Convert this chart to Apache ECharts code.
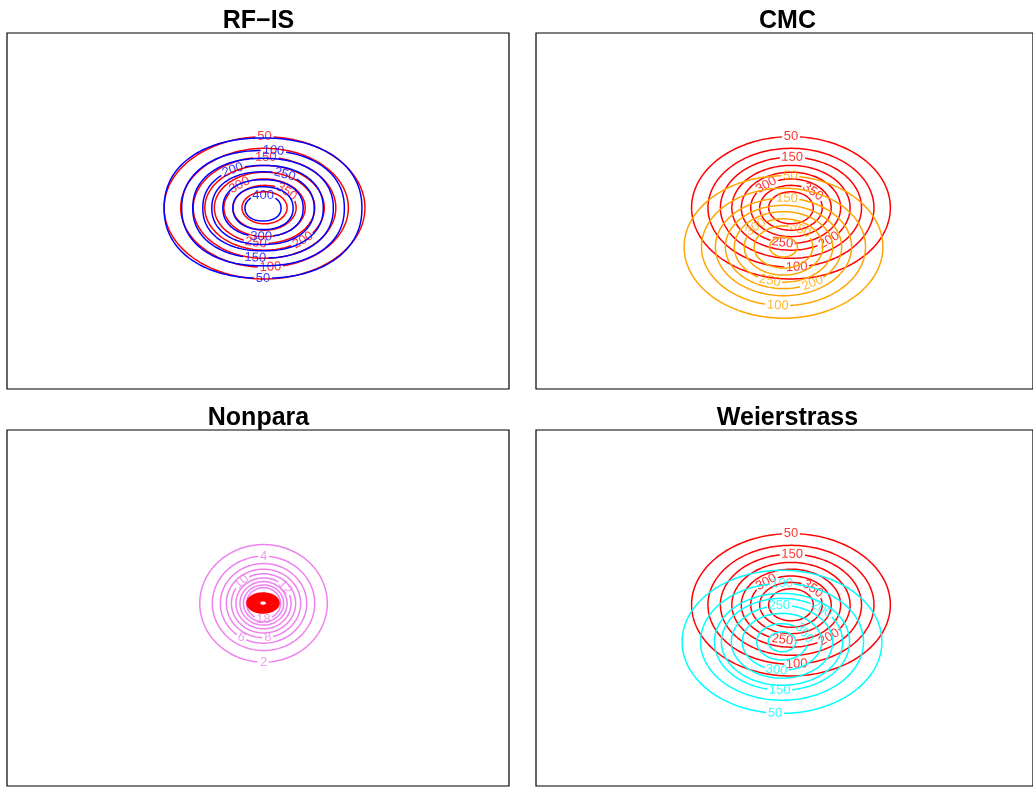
<!DOCTYPE html>
<html>
<head>
<meta charset="utf-8">
<script src="https://cdn.jsdelivr.net/npm/echarts@6/dist/echarts.min.js"></script>
<style>
  html, body { margin: 0; padding: 0; background: #fff; }
  #chart { width: 1033px; height: 787px; }
</style>
</head>
<body>
<div id="chart"></div>
<script>
// ---- panel titles ----
const panelTitles = ['RF\u2212IS', 'CMC', 'Nonpara', 'Weierstrass'];

// ---- true density (red), shared by RF-IS, CMC and Weierstrass ----
const truthLevels = [50, 100, 150, 200, 250, 300, 350, 400];
const truthRadii  = [2.00, 1.67, 1.42, 1.19, 1.00, 0.81, 0.63, 0.45];
const truthCenter = [0.13, 0.09];
// [level, position angle in degrees] of each printed contour label
const truthLabels = [[50, 90], [150, 89], [300, 128], [350, 46], [250, 260], [200, 310], [100, 274]];

// ---- RF-IS estimate (blue) ----
const rfisLevels = [50, 100, 150, 200, 250, 300, 350, 400];
const rfisRadii  = [1.97, 1.62, 1.40, 1.20, 1.02, 0.80, 0.60, 0.36];
const rfisCenter = [0.10, 0.08];
const rfisLabels = [[100, 84], [200, 118], [250, 67], [400, 90], [300, 268], [150, 265], [50, 270]];

// ---- CMC estimate (orange) ----
const cmcLevels = [50, 100, 150, 200, 250, 300, 350, 400];
const cmcRadii  = [2.00, 1.65, 1.37, 1.17, 0.99, 0.79, 0.59, 0.28];
const cmcCenter = [-0.02, -1.01];
const cmcLabels = [[50, 86], [150, 87], [300, 135], [350, 55], [250, 254], [200, 300], [100, 266]];

// ---- Weierstrass estimate (cyan) ----
const weierLevels = [50, 100, 150, 200, 250, 300, 350, 400];
const weierRadii  = [2.01, 1.64, 1.36, 1.22, 1.02, 0.80, 0.51, 0.28];
const weierCenter = [-0.05, -0.95];
const weierLabels = [[100, 90], [250, 93], [200, 49], [350, 29], [300, 262], [150, 268], [50, 266]];

// ---- Nonpara estimate (violet) and its true density (red core) ----
const nonparaLevels = [2, 4, 6, 8, 10, 12, 14, 16, 18];
const nonparaRadii  = [1.27, 1.02, 0.86, 0.74, 0.64, 0.55, 0.47, 0.40, 0.34];
const nonparaCenter = [0.11, 0.13];
const nonparaLabels = [[2, 270], [4, 90], [6, 239], [8, 277], [10, 133], [12, 39], [18, 270]];
const coreRadii  = [0.32, 0.29, 0.26, 0.23, 0.20, 0.17, 0.14, 0.11, 0.08];
const coreCenter = [0.10, 0.14];

// ---- layout ----
const FONT = '"Liberation Sans", Arial, Helvetica, sans-serif';
const PANEL_W = 502, PANEL_H = 356;
const AX_MIN = -5, AX_MAX = 5;
const SX = PANEL_W / (AX_MAX - AX_MIN);   // px per x unit
const SY = PANEL_H / (AX_MAX - AX_MIN);   // px per y unit
const panels = [
  { left: 7,   top: 33 },
  { left: 536, top: 33 },
  { left: 7,   top: 430 },
  { left: 536, top: 430 }
];
const LABEL_SIZE = 13;
const DIGIT_W = 7.2;
const LINE_W = 1.5;

function pointAt(fam, r, deg) {
  const t = deg * Math.PI / 180, c = Math.cos(t), s = Math.sin(t);
  const e = 2 / (fam.shape || 2);
  return [
    fam.center[0] + r * Math.sign(c) * Math.pow(Math.abs(c), e),
    fam.center[1] + r * (fam.aspect || 1) * Math.sign(s) * Math.pow(Math.abs(s), e)
  ];
}

// screen rotation (ECharts: positive = anticlockwise) of the contour at a label
function labelRotation(fam, r, deg) {
  const a = pointAt(fam, r, deg - 0.5), b = pointAt(fam, r, deg + 0.5);
  const dx = (b[0] - a[0]) * SX, dy = -(b[1] - a[1]) * SY;
  let ang = Math.atan2(dy, dx) * 180 / Math.PI;
  while (ang > 90) ang -= 180;
  while (ang <= -90) ang += 180;
  return -ang;
}

// one line series for a contour family, with gaps where labels sit
function contourLines(fam, idx) {
  const N = 720;
  const data = [];
  fam.radii.forEach((r, i) => {
    const lv = fam.levels ? fam.levels[i] : null;
    const labs = (fam.labels || []).filter(l => l[0] === lv).map(l => ({
      p: pointAt(fam, r, l[1]),
      half: String(lv).length * DIGIT_W / 2 + 2
    }));
    let gap = true;
    // run a few steps past a full turn so closed rings have no seam
    for (let k = 0; k <= N + 4; k++) {
      const p = pointAt(fam, r, k * 360 / N);
      const inGap = labs.some(L => Math.hypot((p[0] - L.p[0]) * SX, (p[1] - L.p[1]) * SY) < L.half);
      if (inGap) {
        if (!gap) data.push(['-', '-']);
        gap = true;
      } else {
        data.push(p);
        gap = false;
      }
    }
    data.push(['-', '-']);
  });
  return {
    type: 'line', xAxisIndex: idx, yAxisIndex: idx,
    data, showSymbol: false, symbol: 'none', connectNulls: false,
    lineStyle: { color: fam.color, width: LINE_W, join: 'round', cap: 'round' },
    silent: true, z: fam.z || 2
  };
}

function contourLabels(fam, idx) {
  const data = (fam.labels || []).map(l => {
    const i = fam.levels.indexOf(l[0]);
    const r = fam.radii[i];
    return {
      value: pointAt(fam, r, l[1]).concat([l[0]]),
      label: { rotate: labelRotation(fam, r, l[1]) }
    };
  });
  return {
    type: 'scatter', xAxisIndex: idx, yAxisIndex: idx,
    data, symbolSize: 0, silent: true, z: (fam.z || 2) + 1,
    label: {
      show: true, position: 'inside', color: fam.color,
      fontFamily: FONT, fontSize: LABEL_SIZE,
      formatter: p => String(p.value[2])
    }
  };
}

const truth = { levels: truthLevels, radii: truthRadii, center: truthCenter, labels: truthLabels, color: '#FF0000', z: 2 };
const families = [
  [truth, { levels: rfisLevels, radii: rfisRadii, center: rfisCenter, labels: rfisLabels, color: '#0000FF', shape: 2.2, z: 4 }],
  [truth, { levels: cmcLevels, radii: cmcRadii, center: cmcCenter, labels: cmcLabels, color: '#FFA500', z: 4 }],
  [{ levels: nonparaLevels, radii: nonparaRadii, center: nonparaCenter, labels: nonparaLabels, color: '#EE82EE', aspect: 1.30, z: 2 },
   { radii: coreRadii, center: coreCenter, color: '#FF0000', aspect: 0.88, z: 4 }],
  [truth, { levels: weierLevels, radii: weierRadii, center: weierCenter, labels: weierLabels, color: '#00FFFF', z: 4 }]
];

const grid = [], xAxis = [], yAxis = [], series = [];
panels.forEach((pn, i) => {
  grid.push({ left: pn.left, top: pn.top, width: PANEL_W, height: PANEL_H, show: true,
              borderColor: '#000', borderWidth: 1.2, backgroundColor: 'transparent', containLabel: false });
  xAxis.push({ type: 'value', gridIndex: i, min: AX_MIN, max: AX_MAX, show: false });
  yAxis.push({ type: 'value', gridIndex: i, min: AX_MIN, max: AX_MAX, show: false });
  families[i].forEach(fam => {
    series.push(contourLines(fam, i));
    if (fam.labels) series.push(contourLabels(fam, i));
  });
});

const titles = panelTitles.map((t, i) => ({
  type: 'text',
  x: panels[i].left + PANEL_W / 2 + 0.5,
  y: panels[i].top - 24,
  style: { text: t, fill: '#000', fontFamily: FONT, fontSize: 25, fontWeight: 'bold',
           align: 'center', verticalAlign: 'top' }
}));

const chart = echarts.init(document.getElementById('chart'), null, { renderer: 'canvas' });
chart.setOption({
  animation: false,
  backgroundColor: '#fff',
  grid, xAxis, yAxis, series,
  graphic: titles
});
</script>
</body>
</html>
